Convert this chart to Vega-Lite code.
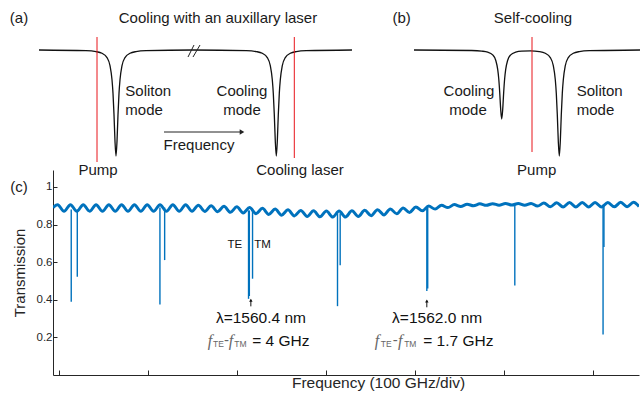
{
  "$schema": "https://vega.github.io/schema/vega-lite/v6.json",
  "padding": {"left": 9, "top": 0, "right": 0, "bottom": 0},
  "bounds": "flush",
  "spacing": 5,
  "config": {
    "font": "Liberation Sans",
    "view": {"stroke": null},
    "axis": {"labelFont": "Liberation Sans", "titleFont": "Liberation Sans"}
  },
  "vconcat": [
    {
      "width": 588,
      "height": 165,
      "layer": [
        {
          "data": {"values": [
            {"p": "a", "f": -14, "t": 50}, {"p": "a", "f": 33, "t": 50.7}, {"p": "a", "f": 43, "t": 51.6}, {"p": "a", "f": 49, "t": 53.3},
            {"p": "a", "f": 54, "t": 57.6}, {"p": "a", "f": 57, "t": 65.7}, {"p": "a", "f": 59, "t": 79.8}, {"p": "a", "f": 60, "t": 93.4},
            {"p": "a", "f": 61, "t": 114.6}, {"p": "a", "f": 62, "t": 141.4}, {"p": "a", "f": 63, "t": 156}, {"p": "a", "f": 64, "t": 141.4},
            {"p": "a", "f": 65, "t": 114.6}, {"p": "a", "f": 66, "t": 93.4}, {"p": "a", "f": 67, "t": 79.8}, {"p": "a", "f": 69, "t": 65.7},
            {"p": "a", "f": 72, "t": 57.6}, {"p": "a", "f": 77, "t": 53.3}, {"p": "a", "f": 83, "t": 51.6}, {"p": "a", "f": 93, "t": 50.7},
            {"p": "a", "f": 140, "t": 50}, {"p": "a", "f": 193.3, "t": 50.7}, {"p": "a", "f": 203.3, "t": 51.6}, {"p": "a", "f": 209.3, "t": 53.3},
            {"p": "a", "f": 214.3, "t": 57.6}, {"p": "a", "f": 217.3, "t": 65.7}, {"p": "a", "f": 219.3, "t": 79.8}, {"p": "a", "f": 220.3, "t": 93.4},
            {"p": "a", "f": 221.3, "t": 114.6}, {"p": "a", "f": 222.3, "t": 141.4}, {"p": "a", "f": 223.3, "t": 156}, {"p": "a", "f": 224.3, "t": 141.4},
            {"p": "a", "f": 225.3, "t": 114.6}, {"p": "a", "f": 226.3, "t": 93.4}, {"p": "a", "f": 227.3, "t": 79.8}, {"p": "a", "f": 229.3, "t": 65.7},
            {"p": "a", "f": 232.3, "t": 57.6}, {"p": "a", "f": 237.3, "t": 53.3}, {"p": "a", "f": 243.3, "t": 51.6}, {"p": "a", "f": 253.3, "t": 50.7},
            {"p": "a", "f": 299, "t": 50},
            {"p": "b", "f": 361, "t": 50}, {"p": "b", "f": 418.7, "t": 50.5}, {"p": "b", "f": 428.7, "t": 51.1}, {"p": "b", "f": 434.7, "t": 52.1},
            {"p": "b", "f": 439.7, "t": 54.9}, {"p": "b", "f": 442.7, "t": 60.2}, {"p": "b", "f": 444.7, "t": 69.4}, {"p": "b", "f": 445.7, "t": 78.3},
            {"p": "b", "f": 446.7, "t": 92.1}, {"p": "b", "f": 447.7, "t": 109.5}, {"p": "b", "f": 448.7, "t": 119}, {"p": "b", "f": 449.7, "t": 109.5},
            {"p": "b", "f": 450.7, "t": 92.1}, {"p": "b", "f": 451.7, "t": 78.3}, {"p": "b", "f": 452.7, "t": 69.4}, {"p": "b", "f": 454.7, "t": 60.2},
            {"p": "b", "f": 457.7, "t": 54.9}, {"p": "b", "f": 462.7, "t": 52.1}, {"p": "b", "f": 468.7, "t": 51.1}, {"p": "b", "f": 477.5, "t": 50.9},
            {"p": "b", "f": 486.3, "t": 51.6}, {"p": "b", "f": 492.3, "t": 53.3}, {"p": "b", "f": 497.3, "t": 57.6}, {"p": "b", "f": 500.3, "t": 65.7},
            {"p": "b", "f": 502.3, "t": 79.8}, {"p": "b", "f": 503.3, "t": 93.4}, {"p": "b", "f": 504.3, "t": 114.6}, {"p": "b", "f": 505.3, "t": 141.4},
            {"p": "b", "f": 506.3, "t": 156}, {"p": "b", "f": 507.3, "t": 141.4}, {"p": "b", "f": 508.3, "t": 114.6}, {"p": "b", "f": 509.3, "t": 93.4},
            {"p": "b", "f": 510.3, "t": 79.8}, {"p": "b", "f": 512.3, "t": 65.7}, {"p": "b", "f": 515.3, "t": 57.6}, {"p": "b", "f": 520.3, "t": 53.3},
            {"p": "b", "f": 526.3, "t": 51.6}, {"p": "b", "f": 536.3, "t": 50.7}, {"p": "b", "f": 588, "t": 50}
          ]},
          "mark": {"type": "line", "color": "#111111", "strokeWidth": 1.3, "interpolate": "monotone"},
          "encoding": {
            "x": {"field": "f", "type": "quantitative", "scale": {"domain": [0, 588], "nice": false, "zero": false}, "axis": null},
            "y": {"field": "t", "type": "quantitative", "scale": {"domain": [0, 165], "reverse": true, "nice": false, "zero": false}, "axis": null},
            "detail": {"field": "p"}
          }
        },
        {
          "data": {"values": [
            {"f": 44, "t": 37, "t2": 162}, {"f": 241.3, "t": 37, "t2": 158}, {"f": 479, "t": 37, "t2": 152}
          ]},
          "mark": {"type": "rule", "color": "#e8141b", "strokeWidth": 1},
          "encoding": {
            "x": {"field": "f", "type": "quantitative", "scale": {"domain": [0, 588], "nice": false, "zero": false}, "axis": null},
            "y": {"field": "t", "type": "quantitative", "scale": {"domain": [0, 165], "reverse": true, "nice": false, "zero": false}, "axis": null},
            "y2": {"field": "t2"}
          }
        },
        {
          "data": {"values": [
            {"f": 135, "t": 57, "f2": 141, "t2": 45}, {"f": 140, "t": 57, "f2": 147, "t2": 45}, {"f": 111, "t": 132, "f2": 188, "t2": 132}
          ]},
          "mark": {"type": "rule", "color": "#222222", "strokeWidth": 1},
          "encoding": {
            "x": {"field": "f", "type": "quantitative", "scale": {"domain": [0, 588], "nice": false, "zero": false}, "axis": null},
            "y": {"field": "t", "type": "quantitative", "scale": {"domain": [0, 165], "reverse": true, "nice": false, "zero": false}, "axis": null},
            "x2": {"field": "f2"},
            "y2": {"field": "t2"}
          }
        },
        {
          "data": {"values": [{"f": 189, "t": 132}]},
          "mark": {"type": "point", "shape": "triangle-right", "filled": true, "size": 28, "color": "#222222", "opacity": 1},
          "encoding": {
            "x": {"field": "f", "type": "quantitative", "scale": {"domain": [0, 588], "nice": false, "zero": false}, "axis": null},
            "y": {"field": "t", "type": "quantitative", "scale": {"domain": [0, 165], "reverse": true, "nice": false, "zero": false}, "axis": null}
          }
        },
        {
          "data": {"values": [
            {"f": -34, "t": 18, "s": "(a)"},
            {"f": 165, "t": 18, "s": "Cooling with an auxillary laser"},
            {"f": 189, "t": 91, "s": "Cooling"},
            {"f": 189, "t": 110, "s": "mode"},
            {"f": 146, "t": 145, "s": "Frequency"},
            {"f": 45, "t": 170, "s": "Pump"},
            {"f": 247, "t": 170, "s": "Cooling laser"},
            {"f": 348.7, "t": 18, "s": "(b)"},
            {"f": 480, "t": 18, "s": "Self-cooling"},
            {"f": 416, "t": 91, "s": "Cooling"},
            {"f": 415, "t": 110, "s": "mode"},
            {"f": 483.7, "t": 170, "s": "Pump"}
          ]},
          "mark": {"type": "text", "fontSize": 15, "color": "#1a1a1a", "align": "center", "baseline": "middle"},
          "encoding": {
            "x": {"field": "f", "type": "quantitative", "scale": {"domain": [0, 588], "nice": false, "zero": false}, "axis": null},
            "y": {"field": "t", "type": "quantitative", "scale": {"domain": [0, 165], "reverse": true, "nice": false, "zero": false}, "axis": null},
            "text": {"field": "s"}
          }
        },
        {
          "data": {"values": [
            {"f": 72.3, "t": 91, "s": "Soliton"},
            {"f": 72.3, "t": 110, "s": "mode"},
            {"f": 523.7, "t": 91, "s": "Soliton"},
            {"f": 523.7, "t": 110, "s": "mode"}
          ]},
          "mark": {"type": "text", "fontSize": 15, "color": "#1a1a1a", "align": "left", "baseline": "middle"},
          "encoding": {
            "x": {"field": "f", "type": "quantitative", "scale": {"domain": [0, 588], "nice": false, "zero": false}, "axis": null},
            "y": {"field": "t", "type": "quantitative", "scale": {"domain": [0, 165], "reverse": true, "nice": false, "zero": false}, "axis": null},
            "text": {"field": "s"}
          }
        }
      ]
    },
    {
      "width": 586,
      "height": 205,
      "encoding": {
        "x": {
          "field": "u", "type": "quantitative",
          "scale": {"domain": [-0.067, 6.52], "nice": false, "zero": false},
          "axis": {
            "values": [0, 1, 2, 3, 4, 5, 6], "labels": false, "tickSize": -5, "grid": false,
            "title": "Frequency (100 GHz/div)", "titleX": 325, "titleY": 7, "titleBaseline": "middle",
            "titleFontSize": 15.5, "titleFontWeight": "normal", "titleColor": "#262626",
            "domainColor": "#262626", "tickColor": "#262626"
          }
        },
        "y": {
          "field": "v", "type": "quantitative",
          "scale": {"domain": [0, 1.09], "nice": false, "zero": false},
          "axis": {
            "values": [0.2, 0.4, 0.6, 0.8, 1], "format": "~g", "tickSize": -4, "grid": false,
            "labelFontSize": 11.5, "labelPadding": 5, "labelColor": "#262626",
            "title": "Transmission", "titleX": -26, "titleFontSize": 15, "titleFontWeight": "normal", "titleColor": "#262626",
            "domainColor": "#262626", "tickColor": "#262626"
          }
        }
      },
      "layer": [
        {
          "data": {"values": [
            {"u": -0.067, "v": 0.89},
            {"u": -0.015, "v": 0.905}, {"u": 0.057, "v": 0.871}, {"u": 0.129, "v": 0.905}, {"u": 0.201, "v": 0.871},
            {"u": 0.273, "v": 0.905}, {"u": 0.345, "v": 0.871}, {"u": 0.417, "v": 0.905}, {"u": 0.489, "v": 0.871},
            {"u": 0.561, "v": 0.905}, {"u": 0.633, "v": 0.871}, {"u": 0.704, "v": 0.905}, {"u": 0.776, "v": 0.871},
            {"u": 0.848, "v": 0.905}, {"u": 0.920, "v": 0.871}, {"u": 0.992, "v": 0.905}, {"u": 1.064, "v": 0.871},
            {"u": 1.136, "v": 0.905}, {"u": 1.208, "v": 0.871}, {"u": 1.280, "v": 0.905}, {"u": 1.352, "v": 0.871},
            {"u": 1.424, "v": 0.905}, {"u": 1.496, "v": 0.871}, {"u": 1.567, "v": 0.903}, {"u": 1.639, "v": 0.870},
            {"u": 1.711, "v": 0.900}, {"u": 1.783, "v": 0.868}, {"u": 1.855, "v": 0.897}, {"u": 1.927, "v": 0.865},
            {"u": 1.999, "v": 0.894}, {"u": 2.071, "v": 0.862}, {"u": 2.143, "v": 0.890}, {"u": 2.215, "v": 0.858},
            {"u": 2.287, "v": 0.886}, {"u": 2.358, "v": 0.854}, {"u": 2.430, "v": 0.882}, {"u": 2.502, "v": 0.850},
            {"u": 2.574, "v": 0.878}, {"u": 2.646, "v": 0.846}, {"u": 2.718, "v": 0.875}, {"u": 2.790, "v": 0.843},
            {"u": 2.862, "v": 0.873}, {"u": 2.934, "v": 0.841}, {"u": 3.006, "v": 0.872}, {"u": 3.078, "v": 0.840},
            {"u": 3.149, "v": 0.872}, {"u": 3.221, "v": 0.840}, {"u": 3.293, "v": 0.873}, {"u": 3.365, "v": 0.843},
            {"u": 3.437, "v": 0.876}, {"u": 3.509, "v": 0.847}, {"u": 3.581, "v": 0.879}, {"u": 3.653, "v": 0.851},
            {"u": 3.725, "v": 0.883}, {"u": 3.797, "v": 0.857}, {"u": 3.869, "v": 0.888}, {"u": 3.940, "v": 0.864},
            {"u": 4.012, "v": 0.893}, {"u": 4.084, "v": 0.873}, {"u": 4.156, "v": 0.898}, {"u": 4.228, "v": 0.882},
            {"u": 4.300, "v": 0.902}, {"u": 4.372, "v": 0.890}, {"u": 4.444, "v": 0.906}, {"u": 4.516, "v": 0.896},
            {"u": 4.588, "v": 0.908}, {"u": 4.660, "v": 0.900}, {"u": 4.731, "v": 0.910}, {"u": 4.803, "v": 0.902},
            {"u": 4.875, "v": 0.911}, {"u": 4.947, "v": 0.903}, {"u": 5.019, "v": 0.912}, {"u": 5.091, "v": 0.904},
            {"u": 5.163, "v": 0.912}, {"u": 5.235, "v": 0.902}, {"u": 5.307, "v": 0.912}, {"u": 5.379, "v": 0.898},
            {"u": 5.451, "v": 0.914}, {"u": 5.523, "v": 0.894}, {"u": 5.595, "v": 0.916}, {"u": 5.667, "v": 0.893},
            {"u": 5.739, "v": 0.917}, {"u": 5.810, "v": 0.893}, {"u": 5.882, "v": 0.917}, {"u": 5.954, "v": 0.893},
            {"u": 6.026, "v": 0.917}, {"u": 6.098, "v": 0.893}, {"u": 6.170, "v": 0.917}, {"u": 6.242, "v": 0.894},
            {"u": 6.314, "v": 0.918}, {"u": 6.386, "v": 0.895}, {"u": 6.458, "v": 0.918}, {"u": 6.52, "v": 0.896}
          ]},
          "mark": {"type": "line", "color": "#0072BD", "strokeWidth": 3, "interpolate": "monotone", "clip": true}
        },
        {
          "data": {"values": [
            {"u": 0.138, "v": 0.389, "v2": 0.88}, {"u": 0.206, "v": 0.522, "v2": 0.88},
            {"u": 1.135, "v": 0.375, "v2": 0.89}, {"u": 1.188, "v": 0.611, "v2": 0.89},
            {"u": 2.131, "v": 0.405, "v2": 0.875}, {"u": 2.140, "v": 0.42, "v2": 0.875}, {"u": 2.176, "v": 0.512, "v2": 0.875},
            {"u": 3.131, "v": 0.366, "v2": 0.86}, {"u": 3.161, "v": 0.584, "v2": 0.86},
            {"u": 4.135, "v": 0.446, "v2": 0.89}, {"u": 4.145, "v": 0.46, "v2": 0.89},
            {"u": 5.124, "v": 0.476, "v2": 0.905},
            {"u": 6.116, "v": 0.215, "v2": 0.905}, {"u": 6.126, "v": 0.68, "v2": 0.905}
          ]},
          "mark": {"type": "rule", "color": "#0072BD", "strokeWidth": 1.4},
          "encoding": {"y2": {"field": "v2"}}
        },
        {
          "data": {"values": [{"u": 2.157, "v": 0.365, "v2": 0.40}, {"u": 4.135, "v": 0.36, "v2": 0.395}]},
          "mark": {"type": "rule", "color": "#111111", "strokeWidth": 1},
          "encoding": {"y2": {"field": "v2"}}
        },
        {
          "data": {"values": [{"u": 2.157, "v": 0.398}, {"u": 4.135, "v": 0.393}]},
          "mark": {"type": "point", "shape": "triangle-up", "filled": true, "size": 12, "color": "#111111", "opacity": 1}
        },
        {
          "data": {"values": [
            {"u": -0.449, "v": 0.997, "s": "(c)"}
          ]},
          "mark": {"type": "text", "fontSize": 15, "color": "#1a1a1a"},
          "encoding": {"text": {"field": "s"}}
        },
        {
          "data": {"values": [
            {"u": 2.270, "v": 0.302, "s": "λ=1560.4 nm"},
            {"u": 4.251, "v": 0.302, "s": "λ=1562.0 nm"},
            {"u": 2.494, "v": 0.182, "s": "= 4 GHz"},
            {"u": 4.489, "v": 0.182, "s": "= 1.7 GHz"}
          ]},
          "mark": {"type": "text", "fontSize": 15.5, "color": "#111111"},
          "encoding": {"text": {"field": "s"}}
        },
        {
          "data": {"values": [
            {"u": 1.978, "v": 0.690, "s": "TE"},
            {"u": 2.289, "v": 0.690, "s": "TM"}
          ]},
          "mark": {"type": "text", "fontSize": 11.5, "color": "#111111"},
          "encoding": {"text": {"field": "s"}}
        },
        {
          "data": {"values": [
            {"u": 1.697, "v": 0.182, "s": "f"}, {"u": 1.933, "v": 0.182, "s": "f"},
            {"u": 3.576, "v": 0.182, "s": "f"}, {"u": 3.837, "v": 0.182, "s": "f"}
          ]},
          "mark": {"type": "text", "fontSize": 16, "font": "Liberation Serif", "fontStyle": "italic", "color": "#666666"},
          "encoding": {"text": {"field": "s"}}
        },
        {
          "data": {"values": [
            {"u": 1.882, "v": 0.184, "s": "-"}, {"u": 3.781, "v": 0.184, "s": "-"}
          ]},
          "mark": {"type": "text", "fontSize": 15, "color": "#666666"},
          "encoding": {"text": {"field": "s"}}
        },
        {
          "data": {"values": [
            {"u": 1.792, "v": 0.165, "s": "TE"}, {"u": 2.039, "v": 0.165, "s": "TM"},
            {"u": 3.678, "v": 0.165, "s": "TE"}, {"u": 3.949, "v": 0.165, "s": "TM"}
          ]},
          "mark": {"type": "text", "fontSize": 8.5, "color": "#666666"},
          "encoding": {"text": {"field": "s"}}
        }
      ]
    }
  ]
}
